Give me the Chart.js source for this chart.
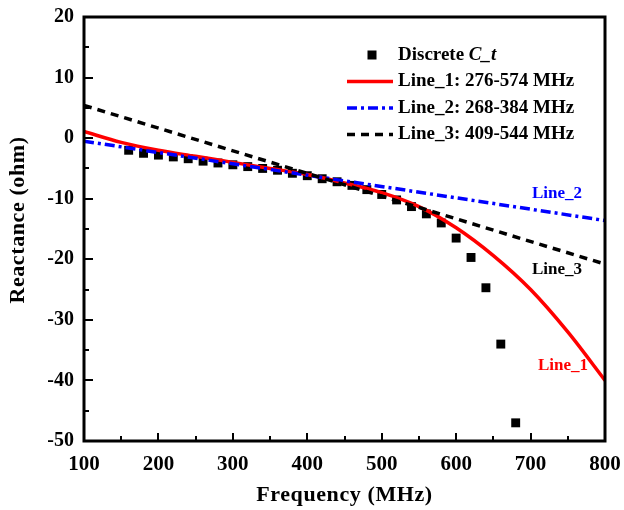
<!DOCTYPE html>
<html>
<head>
<meta charset="utf-8">
<script src="https://cdn.jsdelivr.net/npm/chart.js@4/dist/chart.umd.min.js"></script>
<style>
  html, body { margin: 0; padding: 0; background: #fff; }
  #wrap { width: 624px; height: 510px; }
</style>
</head>
<body>
<div id="wrap"><canvas id="c" width="624" height="510"></canvas></div>
<script>
// Discrete reactance samples (MHz, ohm)
const discreteFreq = [160, 180, 200, 220, 240, 260, 280, 300, 320, 340, 360, 380, 400, 420,
                      440, 460, 480, 500, 520, 540, 560, 580, 600, 620, 640, 660, 680];
const discreteX    = [-2.0, -2.5, -2.8, -3.1, -3.4, -3.8, -4.1, -4.4, -4.7, -5.0, -5.3, -5.8, -6.2, -6.7,
                      -7.2, -7.8, -8.5, -9.3, -10.2, -11.3, -12.5, -14.0, -16.5, -19.7, -24.7, -34.0, -47.0];

// Fitted curves
const line1Freq = [100, 150, 200, 250, 300, 350, 400, 450, 500, 550, 600, 650, 700, 750, 800];
const line1X    = [1.1, -0.7, -2.0, -3.0, -4.0, -5.0, -6.0, -7.4, -9.0, -11.3, -14.8, -19.4, -25.0, -32.0, -40.0];
const line2Freq = [100, 800];
const line2X    = [-0.5, -13.6];
const line3Freq = [100, 800];
const line3X    = [5.4, -20.8];

const xMajor = [100, 200, 300, 400, 500, 600, 700, 800];
const yMajor = [20, 10, 0, -10, -20, -30, -40, -50];

const seriesNames = ['Discrete C_t', 'Line_1: 276-574 MHz', 'Line_2: 268-384 MHz', 'Line_3: 409-544 MHz'];
const curveTags = ['Line_1', 'Line_2', 'Line_3'];

const RED = '#ff0000', BLUE = '#0000ff', BLACK = '#000000';
const SERIF = "'Liberation Serif', 'Times New Roman', serif";

const pts = (xs, ys) => xs.map((x, i) => ({ x: x, y: ys[i] }));

const DASH2 = [10, 4, 3, 4];
const DASH3 = [8, 6];

const decor = {
  id: 'decor',
  afterDraw(chart) {
    const ctx = chart.ctx;
    const a = chart.chartArea;
    const xs = chart.scales.x, ys = chart.scales.y;
    ctx.save();
    ctx.strokeStyle = '#000';
    ctx.lineCap = 'butt';

    // inward ticks on bottom and left axes
    ctx.lineWidth = 2;
    for (let v = 100; v <= 800; v += 50) {
      const px = Math.round(xs.getPixelForValue(v));
      const len = (v % 100 === 0) ? 8 : 5;
      ctx.beginPath(); ctx.moveTo(px, a.bottom); ctx.lineTo(px, a.bottom - len); ctx.stroke();
    }
    for (let v = -50; v <= 20; v += 5) {
      const py = Math.round(ys.getPixelForValue(v));
      const len = (v % 10 === 0) ? 9 : 5;
      ctx.beginPath(); ctx.moveTo(a.left, py); ctx.lineTo(a.left + len, py); ctx.stroke();
    }

    // frame
    ctx.lineWidth = 3;
    ctx.strokeRect(a.left, a.top, a.right - a.left, a.bottom - a.top);

    // axis titles
    ctx.fillStyle = '#000';
    ctx.font = 'bold 22px ' + SERIF;
    ctx.textAlign = 'center';
    ctx.textBaseline = 'middle';
    ctx.letterSpacing = '0.6px';
    ctx.fillText('Frequency (MHz)', (a.left + a.right) / 2, 495);
    ctx.save();
    ctx.translate(18, 220);
    ctx.rotate(-Math.PI / 2);
    ctx.fillText('Reactance (ohm)', 0, 0);
    ctx.restore();
    ctx.letterSpacing = '0px';

    // legend
    const lx0 = 347, lx1 = 393, tx = 398;
    const rows = [55, 81.5, 108, 134.5];
    ctx.font = 'bold 19px ' + SERIF;
    ctx.textAlign = 'left';
    ctx.textBaseline = 'middle';
    // marker row
    ctx.fillStyle = '#000';
    ctx.fillRect(372 - 4.5, rows[0] - 4.5, 9, 9);
    let w = ctx.measureText('Discrete ').width;
    ctx.fillText('Discrete ', tx, rows[0]);
    ctx.font = 'bold italic 19px ' + SERIF;
    ctx.fillText('C_t', tx + w, rows[0]);
    ctx.font = 'bold 19px ' + SERIF;
    const styles = [[RED, []], [BLUE, DASH2], [BLACK, DASH3]];
    for (let i = 0; i < 3; i++) {
      const y = rows[i + 1];
      ctx.strokeStyle = styles[i][0];
      ctx.setLineDash(styles[i][1]);
      ctx.lineWidth = 3.5;
      ctx.beginPath(); ctx.moveTo(lx0, y); ctx.lineTo(lx1, y); ctx.stroke();
      ctx.setLineDash([]);
      ctx.fillStyle = '#000';
      ctx.fillText(seriesNames[i + 1], tx, y);
    }

    // curve tags
    ctx.font = 'bold 17px ' + SERIF;
    ctx.textAlign = 'center';
    ctx.fillStyle = BLUE;  ctx.fillText(curveTags[1], 557, 194);
    ctx.fillStyle = BLACK; ctx.fillText(curveTags[2], 557, 270);
    ctx.fillStyle = RED;   ctx.fillText(curveTags[0], 563, 366);
    ctx.restore();
  }
};

new Chart(document.getElementById('c'), {
  type: 'scatter',
  data: {
    datasets: [
      {
        label: seriesNames[2], type: 'line', data: pts(line2Freq, line2X),
        borderColor: BLUE, borderWidth: 3.5, borderDash: DASH2, pointRadius: 0, fill: false, order: 2
      },
      {
        label: seriesNames[3], type: 'line', data: pts(line3Freq, line3X),
        borderColor: BLACK, borderWidth: 3.5, borderDash: DASH3, pointRadius: 0, fill: false, order: 1
      },
      {
        label: seriesNames[1], type: 'line', data: pts(line1Freq, line1X),
        borderColor: RED, borderWidth: 3.5, pointRadius: 0, fill: false,
        cubicInterpolationMode: 'monotone', order: 3
      },
      {
        label: seriesNames[0], data: pts(discreteFreq, discreteX),
        pointStyle: 'rect', pointRadius: 6.3, pointBackgroundColor: '#000',
        pointBorderWidth: 0, borderColor: '#000', order: 4
      }
    ]
  },
  options: {
    responsive: false,
    devicePixelRatio: 1,
    animation: false,
    layout: { padding: { top: 17, right: 19, left: 0, bottom: 0 } },
    plugins: { legend: { display: false }, tooltip: { enabled: false } },
    scales: {
      x: {
        type: 'linear', min: 100, max: 800,
        afterFit: s => { s.height = 69; s.paddingLeft = 0; s.paddingRight = 0; },
        afterBuildTicks: s => { s.ticks = xMajor.map(v => ({ value: v })); },
        grid: { display: false, drawTicks: false },
        border: { display: false },
        ticks: { color: '#000', padding: 11, maxRotation: 0, autoSkip: false,
                 font: { family: SERIF, size: 21, weight: 'bold' } }
      },
      y: {
        type: 'linear', min: -50, max: 20,
        afterFit: s => { s.width = 84; s.paddingTop = 0; s.paddingBottom = 0; },
        afterBuildTicks: s => { s.ticks = yMajor.map(v => ({ value: v })); },
        grid: { display: false, drawTicks: false },
        border: { display: false },
        ticks: { color: '#000', padding: 10, autoSkip: false,
                 font: { family: SERIF, size: 20, weight: 'bold' } }
      }
    }
  },
  plugins: [decor]
});
</script>
</body>
</html>
